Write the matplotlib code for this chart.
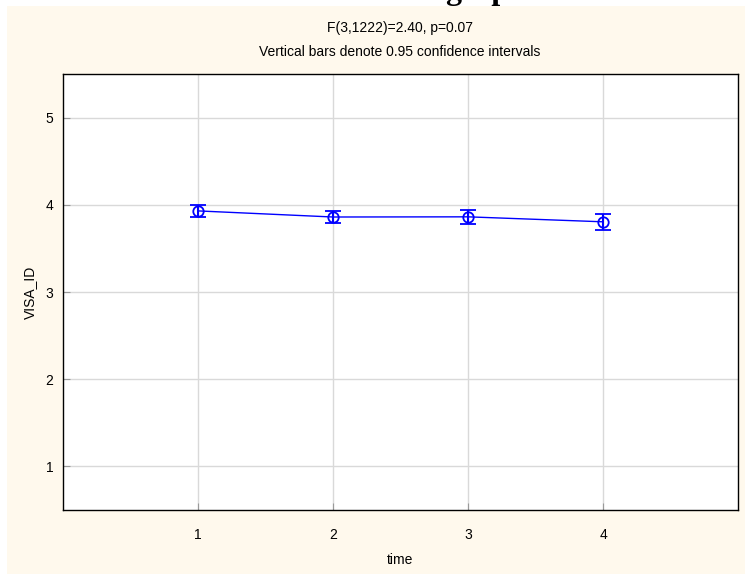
import matplotlib
matplotlib.use("Agg")
import matplotlib.pyplot as plt
from matplotlib.patches import Rectangle

# Means and 95% CI half-widths of VISA_ID at each time point
time_points = [1, 2, 3, 4]
means = [3.93, 3.86, 3.862, 3.805]
ci_half = [0.067, 0.072, 0.081, 0.09]

x_ticks = [1, 2, 3, 4]
y_ticks = [1, 2, 3, 4, 5]

stat_line = "F(3,1222)=2.40, p=0.07"
ci_note = "Vertical bars denote 0.95 confidence intervals"

plt.rcParams['font.family'] = ['Liberation Sans', 'DejaVu Sans']

W, H = 745, 574
fig = plt.figure(figsize=(W / 100, H / 100), dpi=100, facecolor='white')

# cream panel behind the plot
fig.add_artist(Rectangle((7 / W, 0), 1 - 7 / W, (H - 6) / H,
                         transform=fig.transFigure, facecolor='#FFF9ED',
                         edgecolor='none', zorder=-5))

# heading text whose upper part runs off the top edge
fig.text(445 / W, 1.0 + 0.5 / H, "graph", family='Liberation Serif',
         fontweight='bold', fontsize=23, ha='left', va='baseline',
         color='black', zorder=-4)

ax = fig.add_axes([63 / W, (H - 510) / H, 675 / W, 436 / H], zorder=2)
ax.set_facecolor('white')

ax.errorbar(time_points, means, yerr=ci_half, color='#0000FF', lw=1.0,
            marker='o', ms=7.5, mfc='none', mec='#0000FF', mew=1.3,
            elinewidth=1.5, capsize=6, capthick=1.5, zorder=3)

ax.set_xlim(0, 5)
ax.set_ylim(0.5, 5.5)
ax.set_xticks(x_ticks)
ax.set_yticks(y_ticks)
ax.grid(True, color='#D9D9D9', lw=1.0)
ax.set_axisbelow(True)
ax.tick_params(axis='both', direction='in', length=5, color='#9A9A9A',
               labelsize=10, pad=7)
ax.tick_params(axis='x', pad=13)
for s in ax.spines.values():
    s.set_color('black')
    s.set_linewidth(1.0)

ax.set_xlabel('time', fontsize=10, labelpad=8)
ax.set_ylabel('VISA_ID', fontsize=10, labelpad=6)

fig.text(400 / W, 1 - 28 / H, stat_line, ha='center', va='center', fontsize=10)
fig.text(400 / W, 1 - 52 / H, ci_note, ha='center', va='center', fontsize=10)

fig.savefig('out.png', dpi=100, facecolor='white')
